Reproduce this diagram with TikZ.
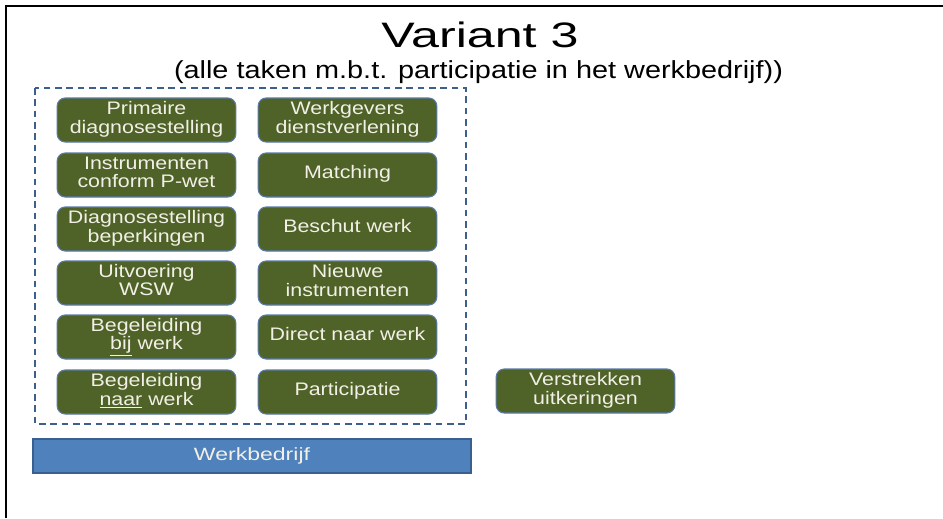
\documentclass[tikz,border=0pt]{standalone}
\usepackage{fontspec}
\setmainfont{Liberation Sans}
\usepackage{graphicx}
\definecolor{olive}{HTML}{4F6228}
\definecolor{oliveedge}{HTML}{5A7BA8}
\definecolor{cream}{HTML}{F2F0E6}
\definecolor{dashblue}{HTML}{3E5F8C}
\definecolor{barblue}{HTML}{4F81BD}
\definecolor{baredge}{HTML}{3A6090}
\newcommand{\bxt}[1]{\scalebox{1.18}[1]{\begin{tabular}{@{}c@{}}#1\end{tabular}}}
\tikzset{
  task/.style={draw=oliveedge, line width=0.8pt, fill=olive, rounded corners=6pt,
    minimum width=134pt, minimum height=33pt, inner sep=0pt, text=cream,
    font=\fontsize{13.6pt}{13.5pt}\selectfont},
  frame/.style={draw=dashblue, line width=1.1pt, dash pattern=on 5pt off 3.5pt},
  bar/.style={draw=baredge, line width=0.8pt, fill=barblue, minimum width=328.5pt,
    minimum height=25.5pt, inner sep=0pt, text=cream, font=\fontsize{13.3pt}{13.3pt}\selectfont}
}
\begin{document}
\begin{tikzpicture}[x=0.75pt,y=-0.75pt]
\useasboundingbox (0,0) rectangle (943,518);
\fill[white] (0,0) rectangle (943,518);
\draw[line width=1.6pt, black] (6,518) -- (6,6) -- (943,6);
\node[anchor=base, font=\fontsize{26.5pt}{26.5pt}\selectfont] (title) at (480,47) {\scalebox{1.42}[1]{Variant 3}};
\node[anchor=base, font=\fontsize{18.5pt}{18.5pt}\selectfont] (sub) at (478.5,78) {\scalebox{1.17}[1]{(alle taken m.b.t. participatie in het werkbedrijf))}};
\draw[frame] (35,88) rectangle (466,424);
\node[task] (a1) at (146.5,120) {\bxt{Primaire\\diagnosestelling}};
\node[task] (a2) at (146.5,175) {\bxt{Instrumenten\\conform P-wet}};
\node[task] (a3) at (146.5,229) {\bxt{Diagnosestelling\\beperkingen}};
\node[task] (a4) at (146.5,283) {\bxt{Uitvoering\\WSW}};
\node[task] (a5) at (146.5,337) {\bxt{Begeleiding\\\underline{bij} werk}};
\node[task] (a6) at (146.5,392) {\bxt{Begeleiding\\\underline{naar} werk}};
\node[task] (b1) at (347.5,120) {\bxt{Werkgevers\\dienstverlening}};
\node[task] (b2) at (347.5,175) {\bxt{Matching}};
\node[task] (b3) at (347.5,229) {\bxt{Beschut werk}};
\node[task] (b4) at (347.5,283) {\bxt{Nieuwe\\instrumenten}};
\node[task] (b5) at (347.5,337) {\bxt{Direct naar werk}};
\node[task] (b6) at (347.5,392) {\bxt{Participatie}};
\node[task] (c1) at (585.5,391) {\bxt{Verstrekken\\uitkeringen}};
\node[bar] (wb) at (252,456) {\scalebox{1.3}[1]{Werkbedrijf}};
\end{tikzpicture}
\end{document}
